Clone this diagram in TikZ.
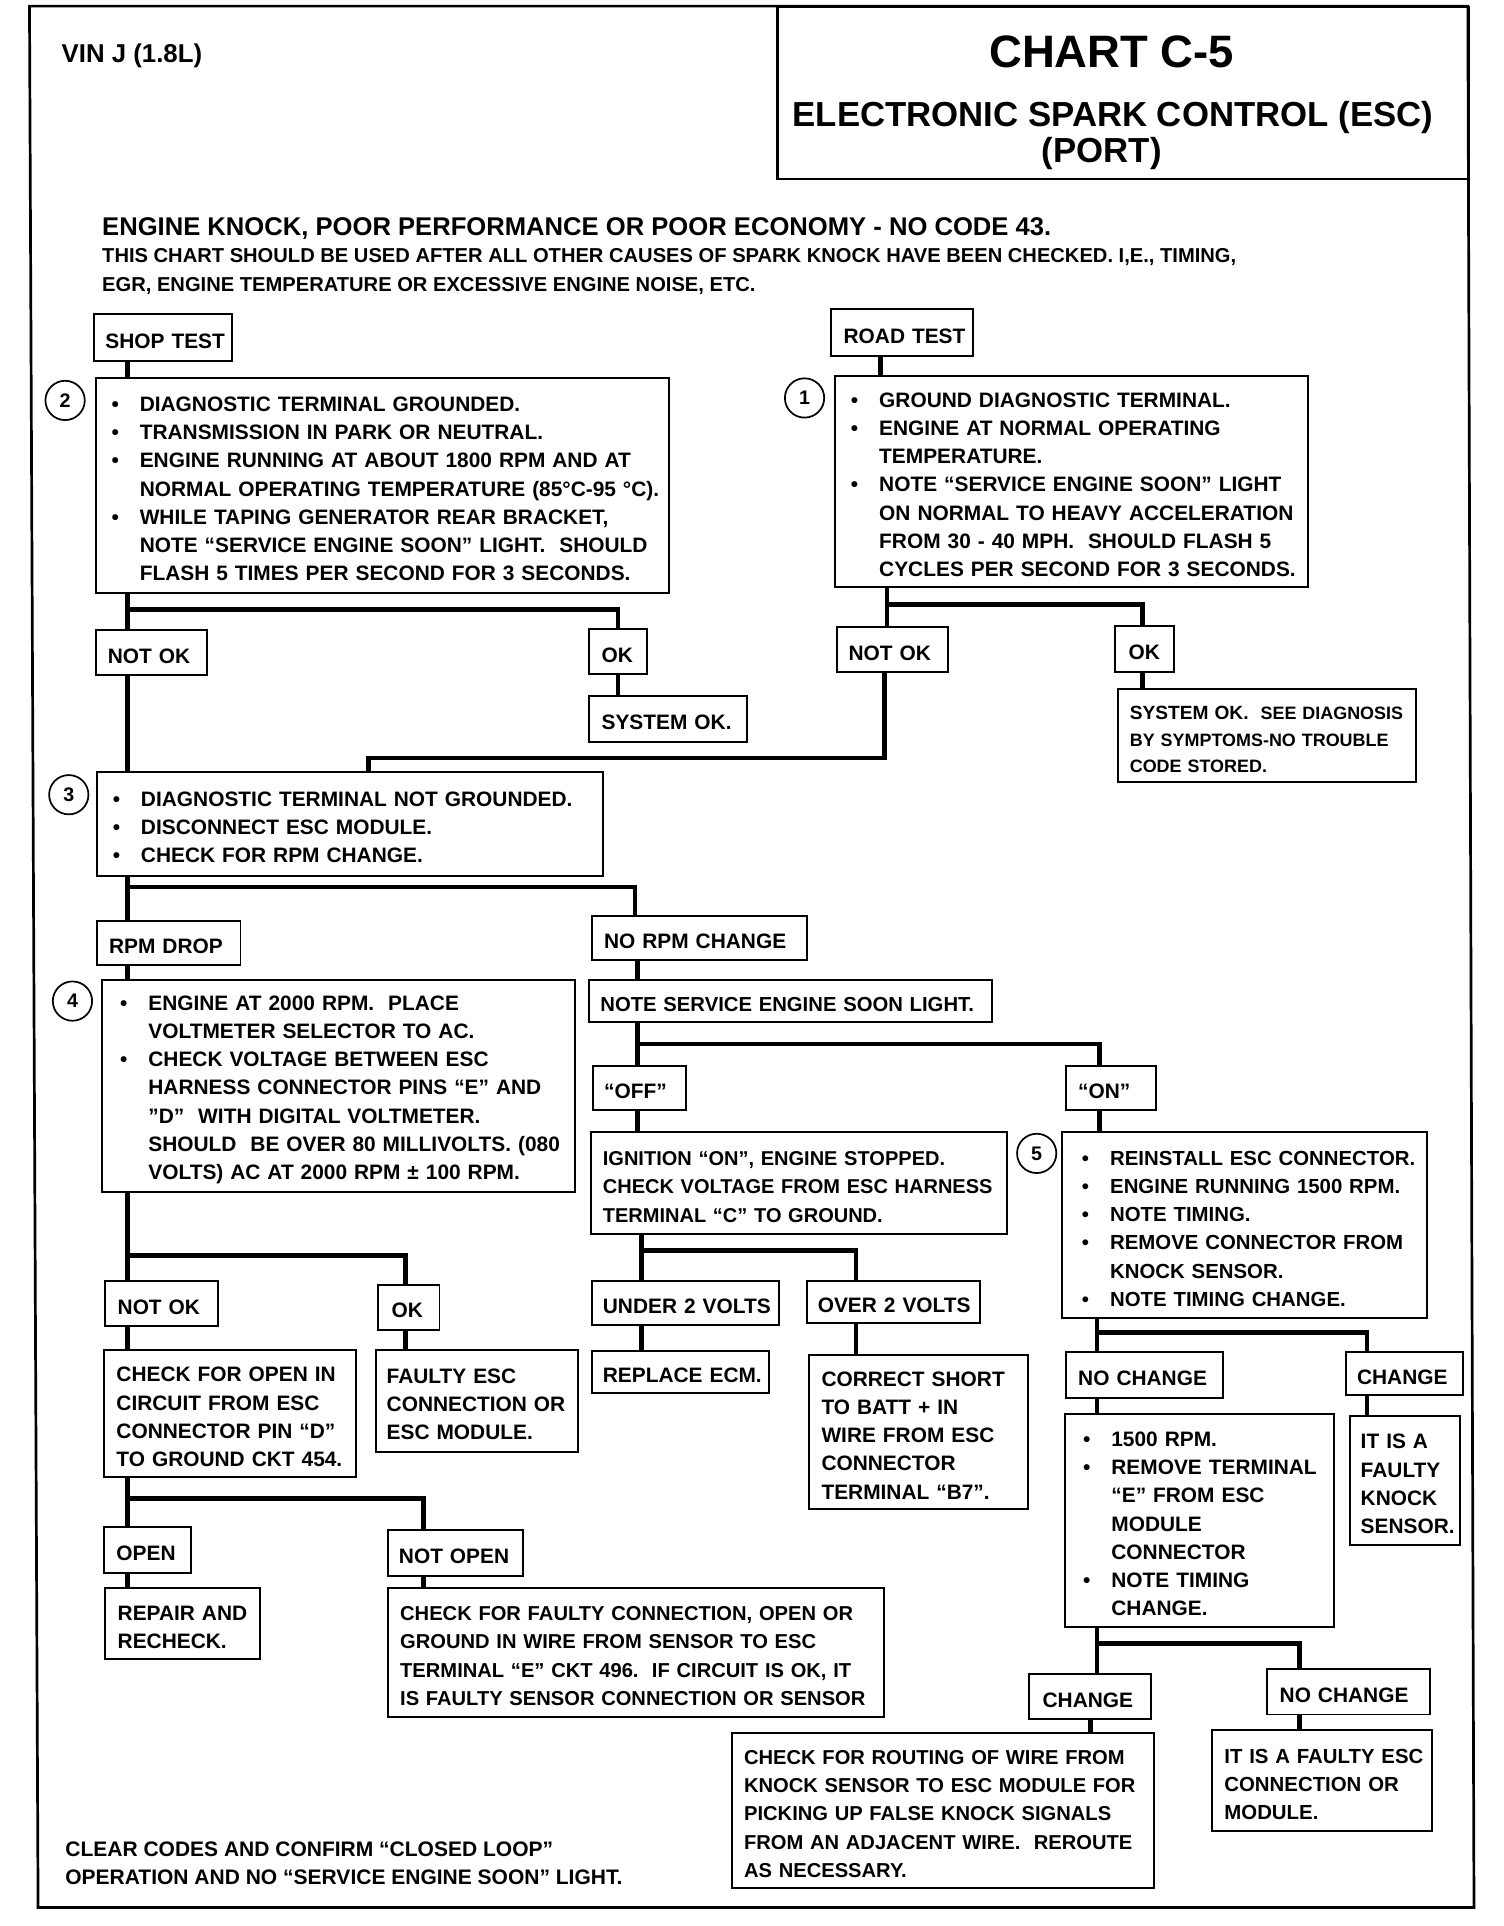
\documentclass[tikz,border=0pt]{standalone}
\usepackage{fontspec}
\setmainfont{Liberation Sans}
\newcommand\bodyf{\fontsize{17}{23}\selectfont\bfseries}
\newcommand\smf[1]{\fontsize{#1}{23}\selectfont\bfseries}
\newcommand\bitm[1]{\makebox[23pt][l]{\textbullet}\mbox{#1}}
\newcommand\citm[1]{\hspace*{23pt}\mbox{#1}}
\begin{document}
\begin{tikzpicture}[x=1pt,y=-1pt,
  box/.style={draw, line width=1.6pt, anchor=north west, inner ysep=0pt, inner xsep=10pt, align=left, font=\bodyf, fill=white, execute at begin node={\rule{0pt}{17.5pt}}},
  bbox/.style={box, inner xsep=13pt},
  conn/.style={line width=3.8pt, line join=miter},
  circ/.style={draw, circle, line width=1.4pt, minimum size=32pt, inner sep=0pt, font=\fontsize{16}{16}\selectfont\bfseries},
  free/.style={anchor=base west, inner sep=0pt}]
\useasboundingbox (0,0) rectangle (1224,1568);
% outer frame
\draw[line width=2.2pt] (24,5) -- (1195,5) -- (1200,1553) -- (31,1553) -- cycle;
% title
\node[draw, line width=1.8pt, anchor=north west, minimum width=563pt, minimum height=140pt, inner sep=0pt] (title) at (632,5) {};
\node[anchor=base, inner sep=0pt, font=\fontsize{37}{37}\selectfont\bfseries] (t1) at (905,55) {CHART C-5};
\node[anchor=base, inner sep=0pt, font=\fontsize{28.3}{28}\selectfont\bfseries] (t2) at (906,103) {ELECTRONIC SPARK CONTROL (ESC)};
\node[anchor=base, inner sep=0pt, font=\fontsize{28.3}{28}\selectfont\bfseries] (t3) at (897,132) {(PORT)};
\node[free, font=\fontsize{21}{21}\selectfont\bfseries] (vin) at (50,51) {VIN J (1.8L)};
\node[free, font=\fontsize{20.85}{20}\selectfont\bfseries] (h1) at (83,192) {ENGINE KNOCK, POOR PERFORMANCE OR POOR ECONOMY - NO CODE 43.};
\node[free, font=\fontsize{16.4}{16}\selectfont\bfseries] (h2) at (83,214) {THIS CHART SHOULD BE USED AFTER ALL OTHER CAUSES OF SPARK KNOCK HAVE BEEN CHECKED. I,E., TIMING,};
\node[free, font=\fontsize{16.4}{16}\selectfont\bfseries] (h3) at (83,237) {EGR, ENGINE TEMPERATURE OR EXCESSIVE ENGINE NOISE, ETC.};
\node[free, font=\fontsize{17.1}{16}\selectfont\bfseries] (f1) at (53,1511) {CLEAR CODES AND CONFIRM “CLOSED LOOP”};
\node[free, font=\fontsize{17.1}{16}\selectfont\bfseries] (f2) at (53,1534) {OPERATION AND NO “SERVICE ENGINE SOON” LIGHT.};

% boxes
\node[box, minimum width=112pt, minimum height=38pt, inner xsep=9pt, text width=94pt] (shop) at (76,255) {\mbox{SHOP TEST}};
\node[box, minimum width=115pt, minimum height=38pt, text width=95pt] (road) at (676,251) {\mbox{ROAD TEST}};
\node[bbox, minimum width=467pt, minimum height=175pt, text width=441pt] (b2) at (77,307) {%
\bitm{DIAGNOSTIC TERMINAL GROUNDED.}\\
\bitm{TRANSMISSION IN PARK OR NEUTRAL.}\\
\bitm{ENGINE RUNNING AT ABOUT 1800 RPM AND AT}\\
\citm{NORMAL OPERATING TEMPERATURE (85°C-95 °C).}\\
\bitm{WHILE TAPING GENERATOR REAR BRACKET,}\\
\citm{NOTE “SERVICE ENGINE SOON” LIGHT.\ \ SHOULD}\\
\citm{FLASH 5 TIMES PER SECOND FOR 3 SECONDS.}};
\node[bbox, minimum width=385pt, minimum height=172pt, text width=359pt] (b1) at (679,305) {%
\bitm{GROUND DIAGNOSTIC TERMINAL.}\\
\bitm{ENGINE AT NORMAL OPERATING}\\
\citm{TEMPERATURE.}\\
\bitm{NOTE “SERVICE ENGINE SOON” LIGHT}\\
\citm{ON NORMAL TO HEAVY ACCELERATION}\\
\citm{FROM 30 - 40 MPH.\ \ SHOULD FLASH 5}\\
\citm{CYCLES PER SECOND FOR 3 SECONDS.}};
\node[circ] (c2) at (53,326) {2};
\node[circ] (c1) at (655,324) {1};
\node[box, minimum width=91pt, minimum height=37pt, text width=71pt] (nok1) at (77,512) {\mbox{NOT OK}};
\node[box, minimum width=47pt, minimum height=37pt, text width=27pt] (ok1) at (479,511) {\mbox{OK}};
\node[box, minimum width=128pt, minimum height=37pt, text width=108pt] (sys1) at (479,566) {\mbox{SYSTEM OK.}};
\node[box, minimum width=90pt, minimum height=36pt, inner xsep=9pt, text width=72pt] (nok2) at (681,510) {\mbox{NOT OK}};
\node[box, minimum width=48pt, minimum height=37pt, inner xsep=11pt, text width=26pt] (ok2) at (907,509) {\mbox{OK}};
\node[box, minimum width=243pt, minimum height=76pt, text width=223pt, font=\fontsize{14.6}{21.5}\selectfont\bfseries] (sys2) at (909,560) {%
\mbox{{\fontsize{15.6}{21.5}\selectfont SYSTEM OK.}\ \ SEE DIAGNOSIS}\\
\mbox{BY SYMPTOMS-NO TROUBLE}\\
\mbox{CODE STORED.}};
\node[bbox, minimum width=412pt, minimum height=84pt, text width=386pt] (b3) at (78,628) {%
\bitm{DIAGNOSTIC TERMINAL NOT GROUNDED.}\\
\bitm{DISCONNECT ESC MODULE.}\\
\bitm{CHECK FOR RPM CHANGE.}};
\node[circ] (c3) at (56,647) {3};
\node[box, minimum width=117pt, minimum height=36pt, text width=97pt] (rpmdrop) at (78,749) {\mbox{RPM DROP}};
\node[box, minimum width=175pt, minimum height=36pt, text width=155pt] (norpm) at (481,745) {\mbox{NO RPM CHANGE}};
\node[bbox, inner xsep=15pt, minimum width=385pt, minimum height=173pt, text width=355pt] (b4) at (82,797) {%
\bitm{ENGINE AT 2000 RPM.\ \ PLACE}\\
\citm{VOLTMETER SELECTOR TO AC.}\\
\bitm{CHECK VOLTAGE BETWEEN ESC}\\
\citm{HARNESS CONNECTOR PINS “E” AND}\\
\citm{"D"\ \ WITH DIGITAL VOLTMETER.}\\
\citm{SHOULD\ \ BE OVER 80 MILLIVOLTS.\ (080}\\
\citm{VOLTS) AC AT 2000 RPM ± 100 RPM.}};
\node[circ] (c4) at (59,815) {4};
\node[box, minimum width=328pt, minimum height=34pt, inner xsep=9pt, text width=310pt, font=\smf{16.5}] (note) at (479,797) {\mbox{NOTE SERVICE ENGINE SOON LIGHT.}};
\node[box, minimum width=76pt, minimum height=36pt, inner xsep=9pt, text width=58pt] (off) at (482,867) {\mbox{“OFF”}};
\node[box, minimum width=73pt, minimum height=36pt, text width=53pt] (on) at (867,867) {\mbox{“ON”}};
\node[box, minimum width=339pt, minimum height=83pt, text width=319pt, font=\smf{16.3}] (ign) at (480,921) {%
\mbox{IGNITION “ON”, ENGINE STOPPED.}\\
\mbox{CHECK VOLTAGE FROM ESC HARNESS}\\
\mbox{TERMINAL “C” TO GROUND.}};
\node[bbox, inner xsep=16pt, minimum width=297pt, minimum height=151pt, text width=265pt, font=\smf{16.6}] (b5) at (864,921) {%
\bitm{REINSTALL ESC CONNECTOR.}\\
\bitm{ENGINE RUNNING 1500 RPM.}\\
\bitm{NOTE TIMING.}\\
\bitm{REMOVE CONNECTOR FROM}\\
\citm{KNOCK SENSOR.}\\
\bitm{NOTE TIMING CHANGE.}};
\node[circ] (c5) at (844,939) {5};
\node[box, minimum width=92pt, minimum height=37pt, text width=72pt] (nok3) at (85,1042) {\mbox{NOT OK}};
\node[box, minimum width=50pt, minimum height=37pt, inner xsep=11pt, text width=28pt] (ok3) at (307,1045) {\mbox{OK}};
\node[box, minimum width=152pt, minimum height=36pt, inner xsep=9pt, text width=134pt] (u2v) at (481,1042) {\mbox{UNDER 2 VOLTS}};
\node[box, minimum width=141pt, minimum height=34pt, inner xsep=9pt, text width=123pt] (o2v) at (656,1042) {\mbox{OVER 2 VOLTS}};
\node[box, minimum width=205pt, minimum height=104pt, text width=185pt] (chkopen) at (84,1098) {%
\mbox{CHECK FOR OPEN IN}\\
\mbox{CIRCUIT FROM ESC}\\
\mbox{CONNECTOR PIN “D”}\\
\mbox{TO GROUND CKT 454.}};
\node[box, minimum width=165pt, minimum height=83pt, inner xsep=9pt, text width=147pt] (faulty) at (305,1098) {%
\mbox{FAULTY ESC}\\
\mbox{CONNECTION OR}\\
\mbox{ESC MODULE.}};
\node[box, minimum width=144pt, minimum height=34pt, inner xsep=9pt, text width=126pt] (repecm) at (481,1099) {\mbox{REPLACE ECM.}};
\node[box, minimum width=178pt, minimum height=126pt, text width=158pt] (corr) at (658,1102) {%
\mbox{CORRECT SHORT}\\
\mbox{TO BATT + IN}\\
\mbox{WIRE FROM ESC}\\
\mbox{CONNECTOR}\\
\mbox{TERMINAL “B7”.}};
\node[box, minimum width=128pt, minimum height=37pt, text width=108pt] (nc1) at (867,1100) {\mbox{NO CHANGE}};
\node[box, minimum width=95pt, minimum height=35pt, inner xsep=9pt, text width=77pt] (ch1) at (1095,1100) {\mbox{CHANGE}};
\node[bbox, inner xsep=15pt, minimum width=219pt, minimum height=174pt, text width=189pt] (b6) at (866,1150) {%
\bitm{1500 RPM.}\\
\bitm{REMOVE TERMINAL}\\
\citm{“E” FROM ESC}\\
\citm{MODULE}\\
\citm{CONNECTOR}\\
\bitm{NOTE TIMING}\\
\citm{CHANGE.}};
\node[box, minimum width=90pt, minimum height=105pt, inner xsep=9pt, text width=72pt] (knock) at (1098,1152) {%
\mbox{IT IS A}\\
\mbox{FAULTY}\\
\mbox{KNOCK}\\
\mbox{SENSOR.}};
\node[box, minimum width=71pt, minimum height=38pt, text width=51pt] (open) at (84,1242) {\mbox{OPEN}};
\node[box, minimum width=110pt, minimum height=37pt, inner xsep=9pt, text width=92pt] (notopen) at (315,1245) {\mbox{NOT OPEN}};
\node[box, minimum width=126pt, minimum height=58pt, text width=106pt] (repair) at (85,1292) {%
\mbox{REPAIR AND}\\
\mbox{RECHECK.}};
\node[box, minimum width=404pt, minimum height=105pt, text width=384pt, font=\smf{16.4}] (chkfaulty) at (315,1292) {%
\mbox{CHECK FOR FAULTY CONNECTION, OPEN OR}\\
\mbox{GROUND IN WIRE FROM SENSOR TO ESC}\\
\mbox{TERMINAL “E” CKT 496.\ \ IF CIRCUIT IS OK, IT}\\
\mbox{IS FAULTY SENSOR CONNECTION OR SENSOR}};
\node[box, minimum width=99pt, minimum height=37pt, inner xsep=11pt, text width=77pt] (ch2) at (837,1362) {\mbox{CHANGE}};
\node[box, minimum width=132pt, minimum height=37pt, text width=112pt] (nc2) at (1031,1358) {\mbox{NO CHANGE}};
\node[box, minimum width=344pt, minimum height=126pt, text width=324pt, font=\smf{16.4}] (route) at (595,1410) {%
\mbox{CHECK FOR ROUTING OF WIRE FROM}\\
\mbox{KNOCK SENSOR TO ESC MODULE FOR}\\
\mbox{PICKING UP FALSE KNOCK SIGNALS}\\
\mbox{FROM AN ADJACENT WIRE.\ \ REROUTE}\\
\mbox{AS NECESSARY.}};
\node[box, minimum width=179pt, minimum height=82pt, text width=159pt, font=\smf{16.6}] (escmod) at (986,1408) {%
\mbox{IT IS A FAULTY ESC}\\
\mbox{CONNECTION OR}\\
\mbox{MODULE.}};

% connector junctions
\coordinate (sx) at (104,300);
\coordinate (rx) at (717,297);
\coordinate (v1) at (104,496); \coordinate (v1r) at (503,496);
\coordinate (v2) at (722,492); \coordinate (v2r) at (930,492);
\coordinate (m1) at (720,617); \coordinate (m2) at (300,617);
\coordinate (v4) at (104,722); \coordinate (v4r) at (517,722);
\coordinate (v5) at (519,850); \coordinate (v5r) at (895,850);
\coordinate (v6) at (104,1022); \coordinate (v6r) at (330,1022);
\coordinate (v7) at (522,1018); \coordinate (v7r) at (697,1018);
\coordinate (v8) at (893,1085); \coordinate (v8r) at (1113,1085);
\coordinate (v9) at (104,1220); \coordinate (v9r) at (345,1220);
\coordinate (v10) at (893,1338); \coordinate (v10r) at (1058,1338);
\coordinate (v11) at (888,1404);

\draw[conn] (shop.south -| sx) -- (b2.north -| sx);
\draw[conn] (road.south -| rx) -- (b1.north -| rx);
\draw[conn] (b2.south -| v1) -- (nok1.north -| v1);
\draw[conn] (v1) -- (v1r) -- (ok1.north -| v1r);
\draw[conn] (ok1.south -| v1r) -- (sys1.north -| v1r);
\draw[conn] (b1.south -| v2) -- (nok2.north -| v2);
\draw[conn] (v2) -- (v2r) -- (ok2.north -| v2r);
\draw[conn] (ok2.south -| v2r) -- (sys2.north -| v2r);
\draw[conn] (nok1.south -| v1) -- (b3.north -| v1);
\draw[conn] (nok2.south -| m1) -- (m1) -- (m2) -- (b3.north -| m2);
\draw[conn] (b3.south -| v4) -- (rpmdrop.north -| v4);
\draw[conn] (v4) -- (v4r) -- (norpm.north -| v4r);
\draw[conn] (rpmdrop.south -| v4) -- (b4.north -| v4);
\draw[conn] (norpm.south -| v5) -- (note.north -| v5);
\draw[conn] (note.south -| v5) -- (off.north -| v5);
\draw[conn] (v5) -- (v5r) -- (on.north -| v5r);
\draw[conn] (off.south -| v5) -- (ign.north -| v5);
\draw[conn] (on.south -| v5r) -- (b5.north -| v5r);
\draw[conn] (b4.south -| v6) -- (nok3.north -| v6);
\draw[conn] (v6) -- (v6r) -- (ok3.north -| v6r);
\draw[conn] (nok3.south -| v6) -- (chkopen.north -| v6);
\draw[conn] (ok3.south -| v6r) -- (faulty.north -| v6r);
\draw[conn] (ign.south -| v7) -- (u2v.north -| v7);
\draw[conn] (v7) -- (v7r) -- (o2v.north -| v7r);
\draw[conn] (u2v.south -| v7) -- (repecm.north -| v7);
\draw[conn] (o2v.south -| v7r) -- (corr.north -| v7r);
\draw[conn] (b5.south -| v8) -- (nc1.north -| v8);
\draw[conn] (v8) -- (v8r) -- (ch1.north -| v8r);
\draw[conn] (nc1.south -| v8) -- (b6.north -| v8);
\draw[conn] (ch1.south -| v8r) -- (knock.north -| v8r);
\draw[conn] (chkopen.south -| v9) -- (open.north -| v9);
\draw[conn] (v9) -- (v9r) -- (notopen.north -| v9r);
\draw[conn] (open.south -| v9) -- (repair.north -| v9);
\draw[conn] (notopen.south -| v9r) -- (chkfaulty.north -| v9r);
\draw[conn] (b6.south -| v10) -- (ch2.north -| v10);
\draw[conn] (v10) -- (v10r) -- (nc2.north -| v10r);
\draw[conn] (ch2.south -| v11) -- (route.north -| v11);
\draw[conn] (nc2.south -| v10r) -- (escmod.north -| v10r);
\end{tikzpicture}
\end{document}
